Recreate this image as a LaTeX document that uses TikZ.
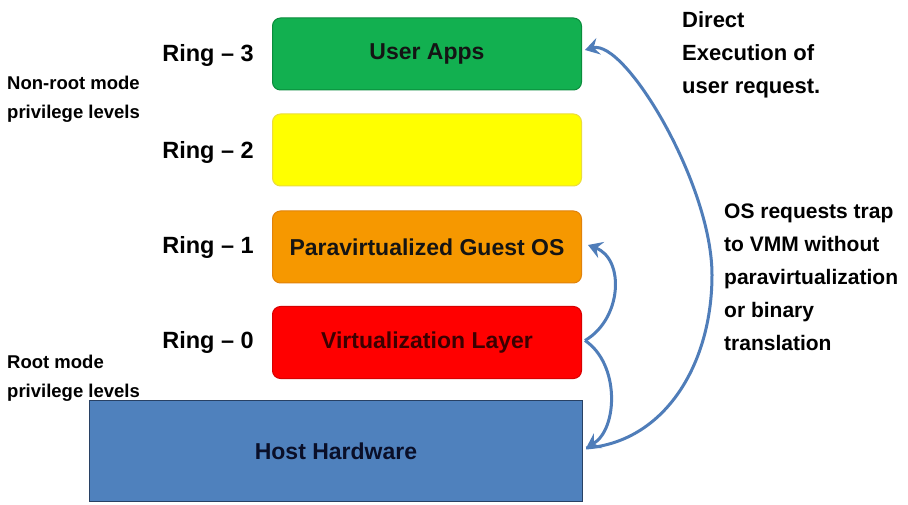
\documentclass[tikz,border=0pt]{standalone}
\usepackage{fontspec}
\setmainfont{Liberation Sans}
\usetikzlibrary{arrows.meta}
\definecolor{cgreen}{RGB}{18,176,80}
\definecolor{cgreenD}{RGB}{10,140,60}
\definecolor{cyellow}{RGB}{255,255,0}
\definecolor{cyellowD}{RGB}{235,220,60}
\definecolor{corange}{RGB}{246,152,0}
\definecolor{corangeD}{RGB}{225,130,10}
\definecolor{cred}{RGB}{255,0,0}
\definecolor{credD}{RGB}{215,0,0}
\definecolor{cblue}{RGB}{79,129,189}
\definecolor{cblueD}{RGB}{40,65,100}
\definecolor{carrow}{RGB}{79,125,185}
\tikzset{
  layer/.style={rounded corners=8pt, minimum width=309pt, minimum height=72pt, inner sep=0pt, line width=1pt,
    font=\fontsize{23}{27}\selectfont\bfseries, text={rgb,255:red,20;green,20;blue,20}},
  ringlbl/.style={font=\fontsize{23.5}{27}\selectfont\bfseries, inner sep=0pt},
  sidelbl/.style={font=\fontsize{18.5}{29}\selectfont\bfseries, align=left, anchor=west, inner sep=0pt},
  rightlbl/.style={font=\fontsize{22}{33}\selectfont\bfseries, align=left, anchor=west, inner sep=0pt},
  traplbl/.style={font=\fontsize{21}{33}\selectfont\bfseries, align=left, anchor=west, inner sep=0pt},
  arr/.style={draw=carrow, line width=3pt, -{Stealth[length=14pt,width=17pt,inset=5pt]}}
}
\begin{document}
\begin{tikzpicture}[x=1pt,y=1pt]
\useasboundingbox (0,0) rectangle (908,504);
\fill[white] (0,0) rectangle (908,504);

% layers
\node[layer, fill=cgreen, draw=cgreenD] (apps) at (427,450) {User Apps};
\node[layer, fill=cyellow, draw=cyellowD] (ring2box) at (427,354) {};
\node[layer, fill=corange, draw=corangeD] (guest) at (427,257) {Paravirtualized Guest OS};
\node[layer, fill=cred, draw=credD, text={rgb,255:red,60;green,0;blue,0}] (virt) at (427,161.5) {Virtualization Layer};
\node[draw=cblueD, fill=cblue, line width=1.2pt, minimum width=493pt, minimum height=101pt, inner sep=0pt,
  font=\fontsize{23}{27}\selectfont\bfseries, text={rgb,255:red,10;green,15;blue,40}] (host) at (336,53) {Host Hardware};

% ring labels
\node[ringlbl] (r3) at (208,449) {Ring – 3};
\node[ringlbl] (r2) at (208,352) {Ring – 2};
\node[ringlbl] (r1) at (208,257) {Ring – 1};
\node[ringlbl] (r0) at (208,162) {Ring – 0};

% side labels
\node[sidelbl] (nonroot) at (7,405) {Non-root mode\\privilege levels};
\node[sidelbl] (root) at (7,126) {Root mode\\privilege levels};

% right labels
\node[rightlbl] (direct) at (682,449) {Direct\\Execution of\\user request.};
\node[traplbl] (trap) at (724,226.5) {OS requests trap\\to VMM without\\paravirtualization\\or binary\\translation};

% arrows
\coordinate (hostR) at ([shift={(3,3)}]host.east);
\coordinate (appsR) at ([shift={(3,4)}]apps.east);
\coordinate (guestR) at ([shift={(6,2)}]guest.east);
\coordinate (virtR) at ([shift={(3,2)}]virt.east);

\draw[arr] (hostR) .. controls (665,62) and (712,140) .. (712,229)
  .. controls (712,320) and (625,465) .. (appsR);
\draw[arr] (virtR) .. controls (622,185) and (625,245) .. (guestR);
\draw[arr] (virtR) .. controls (620,140) and (618,75) .. (hostR);
\end{tikzpicture}
\end{document}
